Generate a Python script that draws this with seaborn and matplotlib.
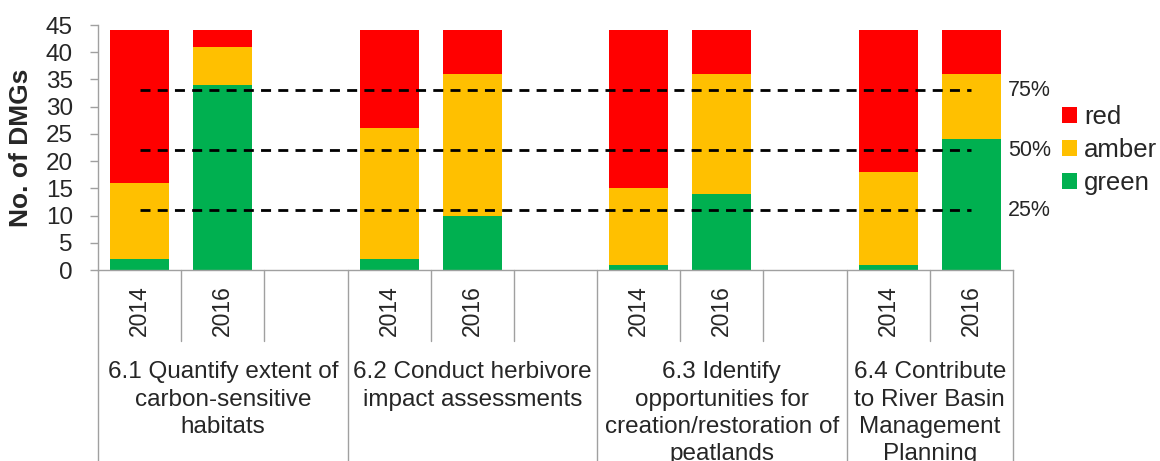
import numpy as np
import pandas as pd
import matplotlib.pyplot as plt
import seaborn as sns
from matplotlib.patches import Patch
from matplotlib import transforms

# data
groups = ["6.1 Quantify extent of\ncarbon-sensitive\nhabitats",
          "6.2 Conduct herbivore\nimpact assessments",
          "6.3 Identify\nopportunities for\ncreation/restoration of\npeatlands",
          "6.4 Contribute\nto River Basin\nManagement\nPlanning"]
years = ["2014", "2016"]
green = [2, 34, 2, 10, 1, 14, 1, 24]
amber = [14, 7, 24, 26, 14, 22, 17, 12]
red = [28, 3, 18, 8, 29, 8, 26, 8]
thresholds = [11, 22, 33]
threshold_labels = ["25%", "50%", "75%"]

colors = {"red": "#FF0000", "amber": "#FFC000", "green": "#00B050"}

# slots: two years per group plus an empty spacer (not after the last group)
order = []
rows = []
k = 0
for gi, g in enumerate(groups):
    for yr in years:
        key = f"{gi}-{yr}"
        order.append(key)
        rows.append({"slot": key, "group": gi, "year": yr,
                     "green": green[k], "amber": amber[k], "red": red[k]})
        k += 1
    if gi < len(groups) - 1:
        order.append(f"{gi}-gap")
df = pd.DataFrame(rows)
df["g_top"] = df["green"]
df["a_top"] = df["green"] + df["amber"]
df["r_top"] = df["green"] + df["amber"] + df["red"]

sns.set_style("white")
plt.rcParams["font.family"] = ["Liberation Sans", "DejaVu Sans"]

fig = plt.figure(figsize=(11.6, 4.61), dpi=100)
ax = fig.add_axes([98 / 1160, 1 - 270 / 461, (1013 - 98) / 1160, 245 / 461])

# stacked bars: draw cumulative tops back to front
for col, c in [("r_top", "red"), ("a_top", "amber"), ("g_top", "green")]:
    sns.barplot(data=df, x="slot", y=col, order=order, color=colors[c],
                width=0.71, saturation=1, edgecolor="none", ax=ax)

ax.set_xlim(-0.5, len(order) - 0.5)
ax.set_ylim(0, 45)
ax.set_yticks(np.arange(0, 46, 5))
ax.tick_params(axis="y", labelsize=17.5, length=6, width=1, color="#A0A0A0",
               direction="out", left=True, pad=12)
ax.tick_params(axis="x", bottom=False, labelbottom=False)
ax.set_xlabel("")
ax.set_ylabel("No. of DMGs", fontsize=19, fontweight="bold")
ax.yaxis.set_label_coords(-0.071, 0.5)
for s in ["top", "right"]:
    ax.spines[s].set_visible(False)
for s in ["left", "bottom"]:
    ax.spines[s].set_color("#A0A0A0")
    ax.spines[s].set_linewidth(1)

# threshold lines with percent labels
first_pos = 0
last_pos = order.index(f"{len(groups) - 1}-{years[-1]}")
ax.hlines(thresholds, first_pos, last_pos, colors="black", linewidth=2,
          linestyles=(0, (3.6, 2.6)))
for yv, lab in zip(thresholds, threshold_labels):
    ax.text(last_pos + 0.44, yv, lab, fontsize=15.5, ha="left", va="center")

# category table under the axis
trans = transforms.blended_transform_factory(ax.transData, ax.transAxes)
for key in order:
    gi, yr = key.split("-")
    if yr != "gap":
        ax.text(order.index(key), -0.165, yr, rotation=90, fontsize=16.5,
                ha="center", va="center", transform=trans, clip_on=False)

group_bounds = [-0.5]
for gi in range(len(groups)):
    slots = [i for i, k2 in enumerate(order) if k2.startswith(f"{gi}-")]
    group_bounds.append(slots[-1] + 0.5)
    # inner separators
    for s in slots[:-1]:
        ax.plot([s + 0.5, s + 0.5], [0, -0.29], color="#A0A0A0", lw=1,
                transform=trans, clip_on=False)
    center = (slots[0] - 0.5 + slots[-1] + 0.5) / 2
    ax.text(center, -0.372, groups[gi], fontsize=17.5, ha="center", va="top",
            linespacing=1.32, transform=trans, clip_on=False)
for b in group_bounds:
    ax.plot([b, b], [0, -0.9], color="#A0A0A0", lw=1, transform=trans,
            clip_on=False)

handles = [Patch(facecolor=colors[c], edgecolor="none") for c in ["red", "amber", "green"]]
fig.legend(handles, ["red", "amber", "green"], loc="center left",
           bbox_to_anchor=(1062 / 1160, 1 - 150 / 461), frameon=False,
           fontsize=18.5, handlelength=0.6, handleheight=0.6, handletextpad=0.25,
           labelspacing=0.36, borderpad=0, borderaxespad=0)

fig.savefig("out.png", dpi=100)
